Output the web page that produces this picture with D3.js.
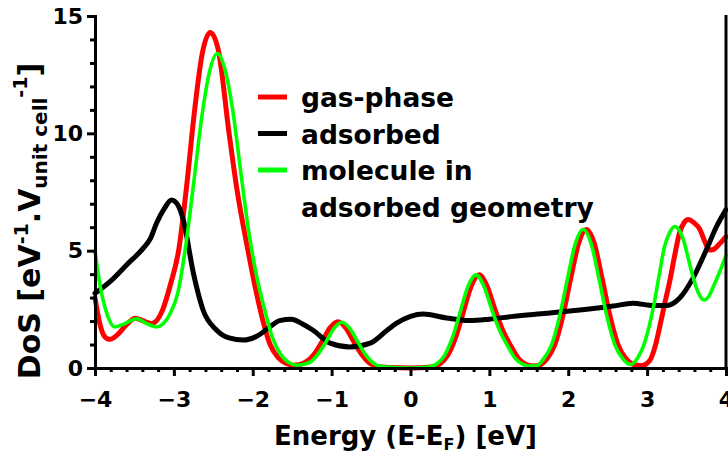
<!DOCTYPE html>
<html>
<head>
<meta charset="utf-8">
<script src="https://cdn.jsdelivr.net/npm/d3@7"></script>
<style>
  html, body { margin: 0; padding: 0; background: #fff; }
  svg { display: block; }
  text { font-family: "DejaVu Sans", sans-serif; font-weight: 700; fill: #000; }
</style>
</head>
<body>
<svg id="chart" width="728" height="459"></svg>
<script>
// Density of states, energies in eV relative to the Fermi level
const gasEnergy = [-4, -3.94, -3.88, -3.81, -3.72, -3.6, -3.49, -3.38, -3.28, -3.14, -3.04, -2.94, -2.84, -2.74, -2.64, -2.54,
  -2.44, -2.3, -2.2, -2.06, -1.96, -1.87, -1.78, -1.68, -1.58, -1.49, -1.42, -1.32, -1.22, -1.12, -1.02, -0.92, -0.82,
  -0.72, -0.62, -0.52, -0.42, -0.25, 0.0, 0.27, 0.37, 0.47, 0.57, 0.67, 0.77, 0.87, 0.97, 1.07, 1.17, 1.27, 1.37, 1.47,
  1.57, 1.63, 1.73, 1.83, 1.93, 2.03, 2.13, 2.23, 2.33, 2.43, 2.53, 2.63, 2.73, 2.83, 2.93, 3.03, 3.1, 3.16, 3.22, 3.29,
  3.35, 3.41, 3.47, 3.52, 3.59, 3.67, 3.73, 3.79, 3.84, 3.92, 4.0];
const gasDos = [3.0, 1.9, 1.35, 1.22, 1.4, 1.85, 2.12, 2.0, 1.9, 2.5, 3.6, 5.0, 7.7, 10.9, 13.4, 14.3,
  13.6, 10.0, 7.6, 5.0, 3.3, 2.0, 1.0, 0.45, 0.2, 0.12, 0.14, 0.27, 0.6, 1.13, 1.71, 1.97, 1.71,
  1.13, 0.58, 0.21, 0.06, 0.02, 0.0, 0.04, 0.17, 0.53, 1.28, 2.39, 3.49, 3.97, 3.49, 2.5, 1.6, 0.95, 0.4, 0.15,
  0.09, 0.12, 0.4, 1.0, 2.2, 3.8, 5.3, 5.9, 5.3, 3.8, 2.2, 1.0, 0.4, 0.15, 0.1, 0.3, 0.9, 1.76, 2.7, 3.75,
  4.8, 5.75, 6.2, 6.33, 6.2, 5.9, 5.4, 5.03, 5.05, 5.3, 5.6];

const adsEnergy = [-4, -3.81, -3.6, -3.39, -3.3, -3.22, -3.12, -3.03, -2.95, -2.88, -2.75, -2.63, -2.46, -2.3, -2.12,
  -1.95, -1.78, -1.66, -1.51, -1.38, -1.24, -1.02, -0.77, -0.51, -0.3, -0.18, 0.0, 0.16, 0.46, 0.75, 1.0, 1.3, 1.73,
  2.15, 2.57, 2.82, 3.08, 3.25, 3.41, 3.58, 3.75, 3.88, 4.0];
const adsDos = [3.18, 3.68, 4.39, 5.1, 5.5, 6.17, 6.8, 7.16, 6.95, 6.3, 4.0, 2.47, 1.62, 1.28, 1.19,
  1.35, 1.76, 2.02, 2.08, 1.9, 1.62, 1.06, 0.9, 1.06, 1.6, 1.9, 2.2, 2.3, 2.13, 2.02, 2.08, 2.2, 2.33,
  2.47, 2.64, 2.76, 2.66, 2.66, 2.97, 3.82, 5.03, 6.03, 6.75];

const molEnergy = [-4, -3.94, -3.85, -3.75, -3.65, -3.47, -3.35, -3.22, -3.15, -3.05, -2.95, -2.85, -2.75, -2.65, -2.55,
  -2.45, -2.35, -2.25, -2.15, -2.05, -1.95, -1.85, -1.75, -1.65, -1.55, -1.44, -1.37, -1.27, -1.17, -1.07, -0.97, -0.87,
  -0.77, -0.67, -0.57, -0.47, -0.37, -0.2, 0.0, 0.23, 0.33, 0.43, 0.53, 0.63, 0.73, 0.83, 0.93, 1.03, 1.13, 1.23, 1.33,
  1.43, 1.53, 1.59, 1.69, 1.79, 1.89, 1.99, 2.09, 2.19, 2.29, 2.39, 2.49, 2.59, 2.69, 2.79, 2.9, 2.95, 3.02, 3.08, 3.15,
  3.22, 3.29, 3.35, 3.41, 3.46, 3.52, 3.58, 3.65, 3.72, 3.78, 3.84, 3.92, 4.0];
const molDos = [5.0, 3.6, 2.33, 1.75, 1.85, 2.1, 1.9, 1.75, 1.85, 2.3, 3.2, 5.2, 7.85, 10.6, 12.6,
  13.4, 12.7, 10.9, 8.3, 5.8, 3.9, 2.5, 1.3, 0.6, 0.25, 0.12, 0.15, 0.25, 0.6, 1.12, 1.69, 1.95,
  1.69, 1.12, 0.57, 0.21, 0.06, 0.02, 0.0, 0.04, 0.17, 0.53, 1.28, 2.39, 3.49, 3.97, 3.49, 2.5, 1.6, 0.95, 0.4,
  0.15, 0.08, 0.08, 0.4, 1.0, 2.2, 3.8, 5.3, 5.91, 5.3, 3.8, 2.2, 1.0, 0.4, 0.15, 0.55, 0.91, 1.7, 2.6, 3.9,
  5.17, 5.8, 6.03, 5.85, 5.46, 4.7, 3.9, 3.2, 2.9, 3.05, 3.47, 4.1, 4.8];

const xTicks = [-4, -3, -2, -1, 0, 1, 2, 3, 4];
const yTicks = [0, 5, 10, 15];
const legendLabels = ["gas-phase", "adsorbed", "molecule in", "adsorbed geometry"];

const series = [
  { name: "gas-phase", energy: gasEnergy, dos: gasDos, color: "#ff0000", width: 5 },
  { name: "adsorbed", energy: adsEnergy, dos: adsDos, color: "#000000", width: 5 },
  { name: "molecule in adsorbed geometry", energy: molEnergy, dos: molDos, color: "#00ff00", width: 3.6 }
];

const svg = d3.select("#chart");
const plotLeft = 95, plotRight = 726, plotTop = 16, plotBottom = 368;

const x = d3.scaleLinear().domain([-4, 4]).range([plotLeft, plotRight]);
const y = d3.scaleLinear().domain([0, 15]).range([plotBottom, plotTop]);

// minor ticks
const xMinor = d3.range(-4, 4.001, 0.2).map(v => +v.toFixed(1)).filter(v => !xTicks.includes(v));
const yMinor = d3.range(0, 15.001, 1).filter(v => !yTicks.includes(v));

// curves
const line = d3.line().curve(d3.curveMonotoneX);
const curves = svg.append("g");
series.forEach(s => {
  const pts = s.energy.map((e, i) => [x(e), y(s.dos[i])]);
  curves.append("path")
    .attr("d", line(pts))
    .attr("fill", "none")
    .attr("stroke", s.color)
    .attr("stroke-width", s.width)
    .attr("stroke-linejoin", "round")
    .attr("stroke-linecap", "round");
});

// right frame line
svg.append("line")
  .attr("x1", plotRight).attr("x2", plotRight)
  .attr("y1", plotTop - 1).attr("y2", plotBottom + 1)
  .attr("stroke", "#000").attr("stroke-width", 3);

// x axis
svg.append("g").attr("transform", `translate(0,${plotBottom})`)
  .call(d3.axisBottom(x).tickValues(xTicks).tickSize(8).tickPadding(15)
    .tickFormat(d => d < 0 ? "\u2212" + Math.abs(d) : String(d)));
svg.append("g").attr("transform", `translate(0,${plotBottom})`)
  .call(d3.axisBottom(x).tickValues(xMinor).tickSize(4).tickFormat(""))
  .call(g => g.select(".domain").remove());

// y axis
svg.append("g").attr("transform", `translate(${plotLeft},0)`)
  .call(d3.axisLeft(y).tickValues(yTicks).tickSize(8).tickPadding(4));
svg.append("g").attr("transform", `translate(${plotLeft},0)`)
  .call(d3.axisLeft(y).tickValues(yMinor).tickSize(5).tickFormat(""))
  .call(g => g.select(".domain").remove());

svg.selectAll(".domain").attr("stroke", "#000").attr("stroke-width", 3);
svg.selectAll(".tick line").attr("stroke", "#000").attr("stroke-width", 3);
svg.selectAll(".tick text").attr("font-size", 22).attr("fill", "#000")
  .style("font-family", "'DejaVu Sans', sans-serif").style("font-weight", 700);

// axis titles
const xt = svg.append("text")
  .attr("x", (plotLeft + plotRight) / 2 - 5).attr("y", 445)
  .attr("text-anchor", "middle").attr("font-size", 26);
xt.append("tspan").text("Energy (E-E");
xt.append("tspan").attr("font-size", 16).attr("dy", 5).text("F");
xt.append("tspan").attr("dy", -5).text(") [eV]");

const yt = svg.append("text")
  .attr("transform", "translate(40,221) rotate(-90)")
  .attr("text-anchor", "middle").attr("font-size", 30);
yt.append("tspan").text("DoS [eV");
yt.append("tspan").attr("font-size", 19).attr("dy", -12).text("-1");
yt.append("tspan").attr("dy", 12).text(".V");
yt.append("tspan").attr("font-size", 20).attr("dy", 7).text("unit cell");
yt.append("tspan").attr("font-size", 19).attr("dy", -20).text("-1");
yt.append("tspan").attr("dy", 13).text("]");

// legend
const legend = svg.append("g");
const rowGap = 36.5, firstBase = 107;
series.forEach((s, i) => {
  legend.append("line")
    .attr("x1", 258).attr("x2", 287)
    .attr("y1", firstBase - 10 + i * rowGap).attr("y2", firstBase - 10 + i * rowGap)
    .attr("stroke", s.color).attr("stroke-width", 5);
});
legendLabels.forEach((t, i) => {
  legend.append("text")
    .attr("x", 301).attr("y", firstBase + i * rowGap)
    .attr("font-size", 26.5).text(t);
});
</script>
</body>
</html>
